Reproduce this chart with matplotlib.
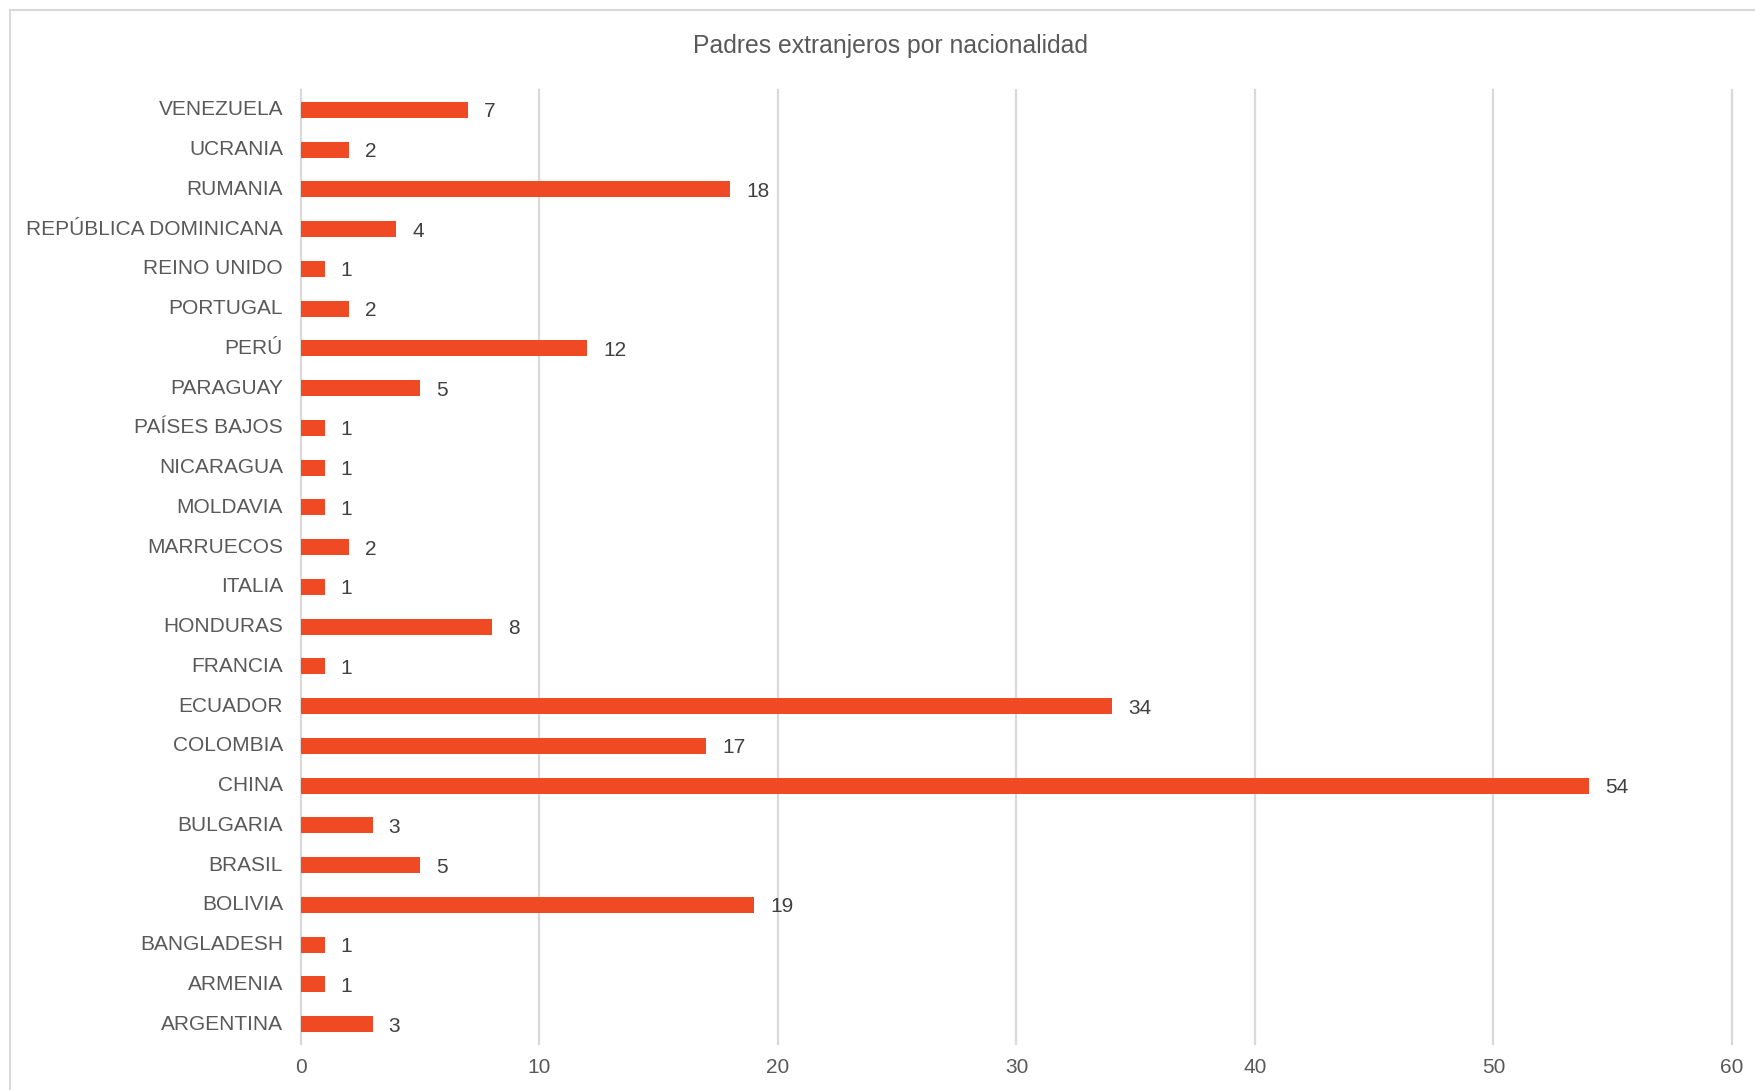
import matplotlib
matplotlib.use("Agg")
import matplotlib.pyplot as plt
from matplotlib.patches import Rectangle

categories = ["VENEZUELA", "UCRANIA", "RUMANIA", "REPÚBLICA DOMINICANA", "REINO UNIDO",
              "PORTUGAL", "PERÚ", "PARAGUAY", "PAÍSES BAJOS", "NICARAGUA", "MOLDAVIA",
              "MARRUECOS", "ITALIA", "HONDURAS", "FRANCIA", "ECUADOR", "COLOMBIA", "CHINA",
              "BULGARIA", "BRASIL", "BOLIVIA", "BANGLADESH", "ARMENIA", "ARGENTINA"]
values = [7, 2, 18, 4, 1, 2, 12, 5, 1, 1, 1, 2, 1, 8, 1, 34, 17, 54, 3, 5, 19, 1, 1, 3]
x_ticks = [0, 10, 20, 30, 40, 50, 60]
title = "Padres extranjeros por nacionalidad"

plt.rcParams['font.family'] = ['Liberation Sans', 'DejaVu Sans']

W, H, DPI = 1756, 1090, 100
fig = plt.figure(figsize=(W / DPI, H / DPI), dpi=DPI)
fig.patch.set_facecolor("white")

ax = fig.add_axes([301 / W, 1 - 1044 / H, (1732 - 301) / W, (1044 - 90) / H])

cats = categories[::-1]
vals = values[::-1]
ypos = list(range(len(cats)))
bar_color = "#F04A25"
text_color = "#595959"
grid_color = "#D9D9D9"

ax.barh(ypos, vals, height=0.4, color=bar_color, zorder=3)
for y, v in zip(ypos, vals):
    ax.annotate(str(v), xy=(v, y), xytext=(16, 0), textcoords="offset pixels",
                ha="left", va="center_baseline", fontsize=15, color="#404040")

ax.set_xlim(0, 60)
ax.set_ylim(-0.5, len(cats) - 0.5)
ax.set_xticks(x_ticks)
ax.set_xticklabels([str(t) for t in x_ticks])
ax.set_yticks(ypos)
ax.set_yticklabels(cats, va="center")
ax.tick_params(axis="both", length=0, labelsize=15, labelcolor=text_color)
ax.tick_params(axis="y", pad=13)
ax.tick_params(axis="x", pad=10)
for s in ax.spines.values():
    s.set_visible(False)
ax.xaxis.grid(True, color=grid_color, linewidth=1.6, zorder=0)
ax.set_axisbelow(True)
for gl in ax.get_xgridlines():
    gl.set_clip_on(False)

fig.text(891 / W, 1 - 46.5 / H, title, ha="center", va="center", fontsize=17.8, color=text_color)

border = Rectangle((10 / W, -0.2), 1.5, 1 - 10 / H + 0.2, transform=fig.transFigure,
                   fill=False, edgecolor=grid_color, linewidth=1.5)
fig.patches.append(border)

fig.savefig("out.png", dpi=DPI)
